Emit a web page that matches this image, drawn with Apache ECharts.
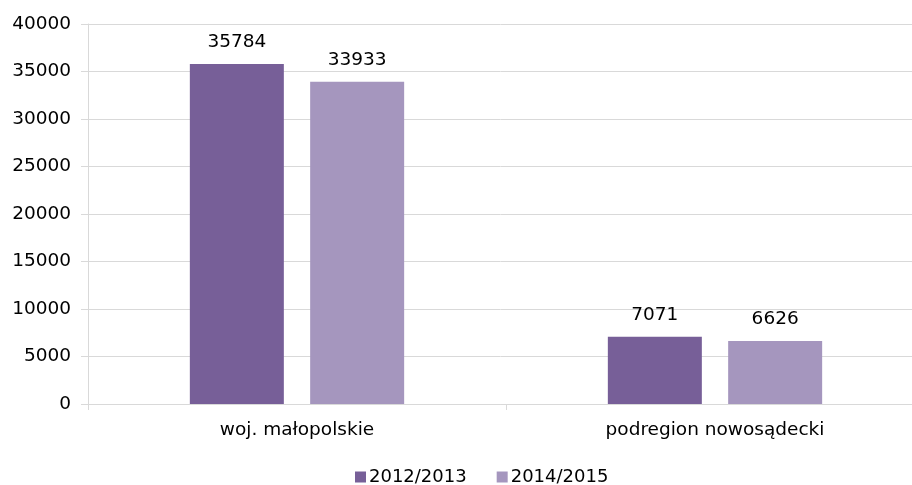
<!DOCTYPE html>
<html>
<head>
    <meta charset="utf-8">
    <title>woj. małopolskie</title>
    <script src="https://cdn.jsdelivr.net/npm/echarts@6/dist/echarts.min.js"></script>
    <style>
        html, body { margin: 0; padding: 0; background: #ffffff; }
        #chart { width: 912px; height: 485px; }
    </style>
</head>
<body>
<div id="chart"></div>
<script>
    var categories = ['woj. małopolskie', 'podregion nowosądecki'];
    var seriesNames = ['2012/2013', '2014/2015'];
    var values2012 = [35784, 7071];
    var values2014 = [33933, 6626];
    var colors = ['#775f98', '#a596be'];

    var chart = echarts.init(document.getElementById('chart'));
    var font = 'DejaVu Sans, Arial, sans-serif';
    var fontSize = 18.5;
    var gridColor = '#d9d9d9';

    function makeSeries(name, data, color) {
        return {
            name: name,
            type: 'bar',
            data: data,
            barWidth: 94,
            barGap: '28%',
            itemStyle: { color: color },
            label: {
                show: true,
                position: 'top',
                distance: 12,
                color: '#000000',
                fontFamily: font,
                fontSize: fontSize
            }
        };
    }

    var option = {
        animation: false,
        textStyle: { fontFamily: font },
        color: colors,
        grid: {
            left: 88,
            top: 24,
            right: -12,
            bottom: 81,
            outerBoundsMode: 'none'
        },
        legend: {
            top: 463,
            left: 350,
            itemWidth: 11,
            itemHeight: 11,
            itemGap: 30,
            icon: 'rect',
            textStyle: { color: '#000000', fontSize: 18, fontFamily: font, padding: [0, 0, 0, -2] },
            data: seriesNames
        },
        xAxis: {
            type: 'category',
            data: categories,
            axisLine: { lineStyle: { color: gridColor, width: 1 } },
            axisTick: { show: true, length: 6, lineStyle: { color: gridColor } },
            axisLabel: { color: '#000000', fontSize: fontSize, fontFamily: font, margin: 17 }
        },
        yAxis: {
            type: 'value',
            min: 0,
            max: 40000,
            interval: 5000,
            axisLine: { show: true, lineStyle: { color: gridColor } },
            axisTick: { show: true, length: 7, lineStyle: { color: gridColor } },
            splitLine: { lineStyle: { color: gridColor } },
            axisLabel: {
                color: '#000000',
                fontSize: fontSize,
                fontFamily: font,
                margin: 17,
                formatter: function (v) { return String(v); }
            }
        },
        series: [
            makeSeries(seriesNames[0], values2012, colors[0]),
            makeSeries(seriesNames[1], values2014, colors[1])
        ]
    };
    chart.setOption(option);
</script>
</body>
</html>
